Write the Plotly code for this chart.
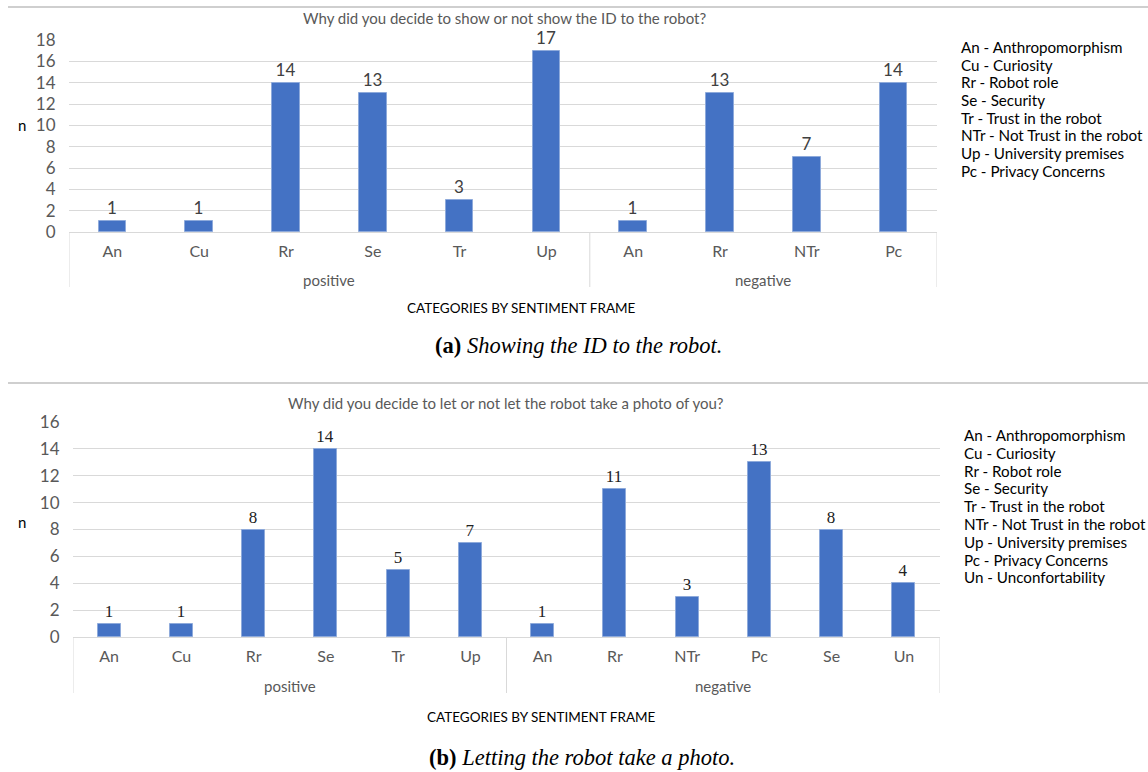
import plotly.graph_objects as go

# ---------------- data ----------------
title_a = "Why did you decide to show or not show the ID to the robot?"
cats_a = ["An", "Cu", "Rr", "Se", "Tr", "Up", "An", "Rr", "NTr", "Pc"]
groups_a = ["positive"] * 6 + ["negative"] * 4
vals_a = [1, 1, 14, 13, 3, 17, 1, 13, 7, 14]

title_b = "Why did you decide to let or not let the robot take a photo of you?"
cats_b = ["An", "Cu", "Rr", "Se", "Tr", "Up", "An", "Rr", "NTr", "Pc", "Se", "Un"]
groups_b = ["positive"] * 6 + ["negative"] * 6
vals_b = [1, 1, 8, 14, 5, 7, 1, 11, 3, 13, 8, 4]

legend_a = ["An - Anthropomorphism", "Cu - Curiosity", "Rr - Robot role", "Se - Security",
            "Tr - Trust in the robot", "NTr - Not Trust in the robot",
            "Up - University premises", "Pc - Privacy Concerns"]
legend_b = legend_a + ["Un - Unconfortability"]

xlabel = "CATEGORIES BY SENTIMENT FRAME"
ylabel = "n"
caption_a = ("(a)", "Showing the ID to the robot.")
caption_b = ("(b)", "Letting the robot take a photo.")

# ---------------- helpers ----------------
W, H = 1148, 772
def fx(p): return p / W
def fy(p): return 1 - p / H

SANS = "Lato"
SERIF = "Liberation Serif"
GRAY = "#595959"
BAR = "#4472C4"
GRID = "#d9d9d9"

fig = go.Figure()

fig.add_trace(go.Bar(x=list(range(len(vals_a))), y=vals_a, width=0.32,
                     marker=dict(color=BAR, line=dict(color="#8eaadb", width=1)),
                     text=vals_a, textposition="outside", cliponaxis=False,
                     textfont=dict(family=SANS, size=17, color="#404040"),
                     xaxis="x", yaxis="y", showlegend=False))
fig.add_trace(go.Bar(x=list(range(len(vals_b))), y=vals_b, width=0.32,
                     marker=dict(color=BAR, line=dict(color="#8eaadb", width=1)),
                     text=vals_b, textposition="outside", cliponaxis=False,
                     textfont=dict(family=SERIF, size=17, color="#222222"),
                     xaxis="x2", yaxis="y2", showlegend=False))

# plot areas (pixel estimates)
A = dict(x0=69, x1=937, y0=232, ytop=40)
B = dict(x0=73, x1=940, y0=637, ytop=422)

xcommon = dict(showgrid=False, zeroline=False, showline=False, ticks="outside",
               ticklen=5, tickcolor="rgba(0,0,0,0)",
               tickfont=dict(family=SANS, size=16, color=GRAY))
ycommon = dict(showgrid=True, gridcolor=GRID, gridwidth=1, zeroline=True,
               zerolinecolor=GRID, zerolinewidth=1, showline=False, dtick=2,
               ticks="outside", ticklen=9, tickcolor="rgba(0,0,0,0)",
               tickfont=dict(family=SANS, size=17, color=GRAY))

fig.update_layout(
    width=W, height=H, margin=dict(l=0, r=0, t=0, b=0, autoexpand=False),
    paper_bgcolor="white", plot_bgcolor="white", bargap=0,
    xaxis=dict(domain=[fx(A["x0"]), fx(A["x1"])], anchor="y", range=[-0.5, len(vals_a) - 0.5],
               tickvals=list(range(len(cats_a))), ticktext=cats_a, **xcommon),
    yaxis=dict(domain=[fy(A["y0"]), fy(A["ytop"])], anchor="x", range=[0, 18], **ycommon),
    xaxis2=dict(domain=[fx(B["x0"]), fx(B["x1"])], anchor="y2", range=[-0.5, len(vals_b) - 0.5],
                tickvals=list(range(len(cats_b))), ticktext=cats_b, **xcommon),
    yaxis2=dict(domain=[fy(B["y0"]), fy(B["ytop"])], anchor="x2", range=[0, 16], **ycommon),
)

shapes = []
annos = []

# horizontal rules
for py in (7, 383):
    shapes.append(dict(type="line", xref="paper", yref="paper", x0=fx(8), x1=1,
                       y0=fy(py), y1=fy(py), line=dict(color="#bfbfbf", width=1.5)))

def group_decor(groups, xa, y0px, ybot, ygroup):
    bounds = [-0.5]
    for i in range(1, len(groups)):
        if groups[i] != groups[i - 1]:
            bounds.append(i - 0.5)
    bounds.append(len(groups) - 0.5)
    for b in bounds:
        shapes.append(dict(type="line", xref=xa, yref="paper", x0=b, x1=b,
                           y0=fy(y0px), y1=fy(ybot), line=dict(color=GRID, width=1)))
    for j in range(len(bounds) - 1):
        g = groups[int(bounds[j] + 0.5)]
        annos.append(dict(xref=xa, yref="paper", x=(bounds[j] + bounds[j + 1]) / 2, y=fy(ygroup),
                          text=g, showarrow=False, xanchor="center", yanchor="middle",
                          font=dict(family=SANS, size=15, color=GRAY)))

group_decor(groups_a, "x", A["y0"], 287, 280)
group_decor(groups_b, "x2", B["y0"], 693, 686)

def text(x, y, t, size, color, family=SANS, xanchor="center"):
    annos.append(dict(xref="paper", yref="paper", x=fx(x), y=fy(y), text=t, showarrow=False,
                      xanchor=xanchor, yanchor="middle", font=dict(family=family, size=size, color=color)))

text(504, 18, title_a, 15, GRAY)
text(506, 403, title_b, 15, GRAY)
text(22, 125, ylabel, 15, "black")
text(22, 522, ylabel, 15, "black")
text(521, 308, xlabel, 13.5, "black")
text(541, 717, xlabel, 13.5, "black")
text(578, 345, f"<b>{caption_a[0]}</b> <i>{caption_a[1]}</i>", 22.5, "black", SERIF)
text(582, 757, f"<b>{caption_b[0]}</b> <i>{caption_b[1]}</i>", 22.5, "black", SERIF)

for i, t in enumerate(legend_a):
    text(959, 47 + i * 17.7, t, 15.2, "black", xanchor="left")
for i, t in enumerate(legend_b):
    text(962, 435 + i * 17.8, t, 15.2, "black", xanchor="left")

fig.update_layout(shapes=shapes, annotations=annos)
fig.write_html("out.html")
